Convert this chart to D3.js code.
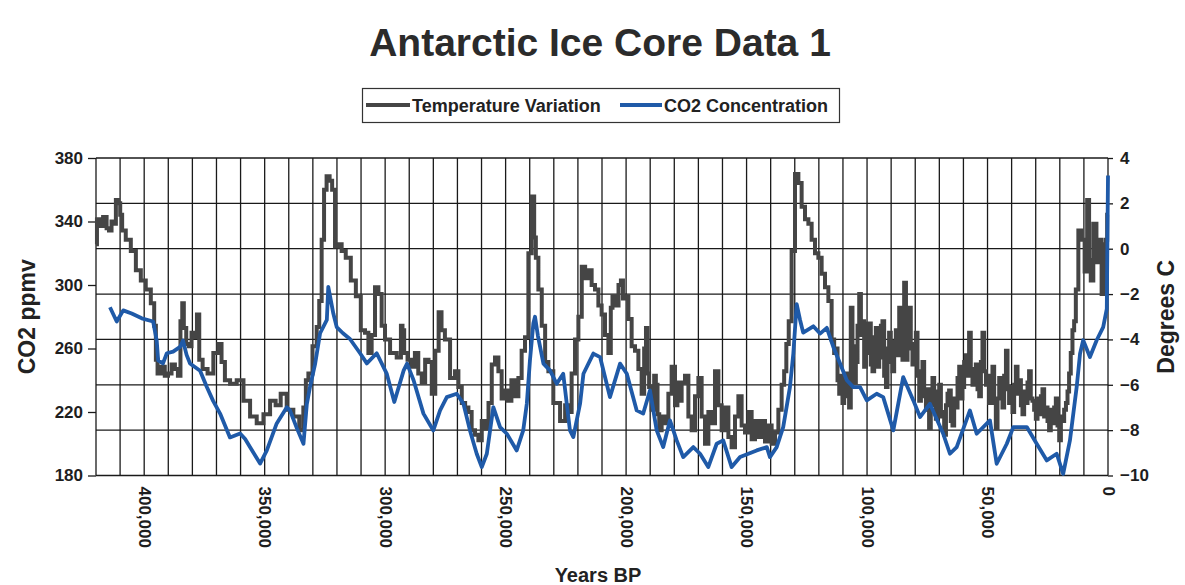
<!DOCTYPE html>
<html>
<head>
<meta charset="utf-8">
<script src="https://cdn.jsdelivr.net/npm/d3@7"></script>
<style>
  html, body { margin: 0; padding: 0; background: #ffffff; }
  svg { display: block; }
  .tick text { font-family: "Liberation Sans", Arial, sans-serif; font-weight: bold; font-size: 17px; fill: #1e1e1e; }
  .domain { display: none; }
</style>
</head>
<body>
<svg id="chart" width="1185" height="585"></svg>
<script>
// Vostok ice core record: age (kyr before present) and temperature anomaly (°C)
const tempYears = [
  420.0, 419.2, 417.9, 416.2, 415.0, 414.2, 412.9, 412.1, 411.4, 410.3, 409.6, 408.7, 406.6, 404.5, 402.4, 400.4,
  398.3, 396.2, 395.5, 394.8, 394.1, 392.0, 390.9, 389.3, 388.0, 386.5, 385.5, 384.4, 384.0, 383.1, 382.0, 381.0,
  379.7, 378.7, 377.5, 376.8, 374.7, 372.7, 369.9, 368.5, 367.3, 365.7, 363.0, 360.2, 357.4, 354.7, 351.9, 349.1,
  346.4, 344.5, 342.2, 339.5, 336.7, 334.6, 333.3, 332.5, 331.2, 329.1, 327.7, 327.0, 325.7, 325.0, 323.6, 322.5,
  321.5, 320.1, 318.7, 317.4, 315.3, 313.2, 311.1, 309.1, 307.6, 306.3, 304.9, 303.5, 302.1, 300.8, 299.3, 296.6,
  293.8, 293.1, 292.5, 291.7, 289.7, 288.3, 287.0, 285.5, 284.1, 282.7, 281.3, 280.0, 278.4, 277.2, 276.0, 274.4,
  271.7, 270.3, 268.9, 267.5, 266.1, 264.8, 263.4, 262.0, 260.6, 259.2, 257.8, 256.4, 255.1, 253.7, 252.3, 251.0,
  250.2, 248.2, 247.0, 245.4, 244.0, 242.7, 241.2, 239.9, 238.5, 237.8, 237.1, 235.7, 234.3, 232.9, 231.6, 228.8,
  226.0, 224.6, 223.3, 221.9, 220.5, 219.1, 217.7, 216.3, 215.0, 213.6, 212.2, 210.8, 209.5, 208.0, 206.7, 206.0,
  205.3, 203.8, 202.5, 201.8, 200.8, 199.7, 198.4, 197.0, 195.6, 194.2, 192.9, 192.1, 191.4, 190.8, 190.1, 188.7,
  188.0, 187.3, 186.6, 185.9, 184.6, 183.1, 181.8, 180.4, 179.0, 178.4, 177.6, 176.3, 174.8, 173.5, 172.1, 170.7,
  169.3, 168.0, 166.5, 165.2, 163.8, 162.4, 161.0, 159.7, 158.2, 156.9, 155.5, 154.1, 152.7, 151.4, 149.9, 148.6,
  147.2, 145.8, 144.4, 143.1, 141.6, 140.3, 138.9, 137.5, 136.1, 134.8, 134.0, 133.0, 132.0, 130.6, 129.2, 127.8,
  126.5, 125.0, 123.7, 122.3, 120.9, 119.5, 118.2, 116.7, 115.4,
  114.0, 113.3, 112.6, 111.9, 111.2, 110.5, 109.9, 109.1, 108.4, 107.8, 107.1, 106.4, 105.7, 105.0, 104.3, 103.6,
  102.9, 102.2, 101.6, 100.8, 100.1, 99.5, 98.8, 98.1, 97.4, 96.7, 96.0, 95.3, 94.6, 93.9, 93.3, 92.5,
  91.8, 91.2, 90.5, 89.8, 89.1, 88.4, 87.7, 87.0, 86.3, 85.6, 85.0, 84.2, 83.5, 82.9, 82.2, 81.5,
  80.8, 80.1, 79.4, 78.7, 78.0, 77.3, 76.7, 75.9, 75.2, 74.6, 73.9, 73.2, 72.5, 71.8, 71.1, 70.4,
  69.7, 69.0, 68.4, 67.6, 66.9, 66.3, 65.6, 64.9, 64.2, 63.5, 62.8, 62.1, 61.4, 60.7, 60.1, 59.3,
  58.6, 58.0, 57.3, 56.6, 55.9, 55.2, 54.5, 53.8, 53.1, 52.4, 51.8, 51.0, 50.3, 49.7, 49.0, 48.3,
  47.6, 46.9, 46.2, 45.5, 44.8, 44.1, 43.5, 42.7, 42.0, 41.4, 40.7, 40.0, 39.3, 38.6, 37.9, 37.2,
  36.5, 35.8, 35.2, 34.4, 33.7, 33.1, 32.4, 31.7, 31.0, 30.3, 29.6, 28.9, 28.2, 27.5, 26.9, 26.1,
  25.4, 24.8, 24.1, 23.4, 22.7, 22.0, 21.3, 20.6, 19.9, 19.2, 18.6, 17.8, 17.1, 16.5, 15.8, 15.1,
  14.4, 13.7, 13.0, 11.6, 10.3, 9.1, 8.2, 7.5, 6.8, 5.4, 4.2, 3.3, 2.0, 1.2, 0.5, 0.2
];
const tempValues = [
  0.2, 1.3, 1.0, 1.4, 0.9, 0.8, 1.2, 1.1, 2.15, 2.0, 1.5, 0.8, 0.4, -0.1, -0.95, -1.4,
  -1.8, -2.4, -3.4, -4.9, -5.5, -5.2, -5.6, -5.5, -5.1, -5.3, -5.6, -3.2, -2.4, -3.5, -4.2, -4.3,
  -3.7, -3.9, -2.9, -4.9, -5.3, -5.5, -4.6, -4.2, -5.0, -5.8, -5.95, -5.8, -6.7, -7.4, -7.7, -7.3,
  -6.7, -6.9, -6.4, -7.1, -7.4, -8.0, -7.0, -5.8, -5.5, -4.3, -3.45, -2.3, 0.4, 2.6, 3.2, 3.0,
  2.6, 0.1, 0.2, -0.1, -0.4, -1.4, -2.1, -3.6, -3.7, -4.6, -3.8, -1.7, -2.0, -3.4, -4.0, -4.6,
  -4.8, -3.4, -3.6, -4.6, -4.9, -5.2, -4.6, -5.5, -5.9, -4.9, -5.0, -6.4, -4.5, -2.8, -3.6, -4.0,
  -5.7, -5.4, -6.1, -6.8, -7.0, -7.2, -8.0, -8.2, -8.45, -7.6, -7.9, -6.8, -5.1, -4.8, -5.4, -6.6,
  -6.25, -6.7, -5.8, -6.5, -5.7, -4.5, -3.9, -0.2, 2.3, 0.5, -0.4, -1.8, -3.4, -5.0, -5.4, -6.8,
  -7.6, -6.9, -7.2, -5.5, -4.0, -3.0, -0.8, -1.3, -0.95, -1.6, -1.8, -2.5, -2.9, -3.8, -4.6, -2.6,
  -2.1, -2.5, -1.6, -1.4, -2.2, -2.1, -3.1, -4.3, -4.5, -5.3, -6.4, -4.4, -3.5, -5.5, -6.1, -7.1,
  -5.6, -6.0, -7.3, -8.0, -7.4, -7.7, -6.4, -5.2, -6.9, -5.9, -6.7, -5.9, -5.6, -7.4, -8.0, -6.5,
  -5.7, -7.4, -8.6, -7.2, -7.7, -5.4, -6.9, -8.0, -7.0, -8.3, -8.75, -7.4, -6.5, -7.8, -8.1, -7.2,
  -8.4, -7.6, -8.3, -7.6, -8.5, -7.8, -8.6, -8.1, -7.1, -6.0, -5.4, -4.2, -3.2, -0.1, 3.3, 2.9,
  1.85, 1.3, 1.1, 0.4, -0.2, -0.4, -1.1, -1.7, -2.3,
  -4.0, -4.6, -4.4, -5.8, -6.4, -5.6, -6.8, -5.8, -5.5, -6.5, -7.0, -2.6, -4.3, -5.9, -5.0, -3.4,
  -2.0, -3.8, -3.2, -5.2, -4.6, -3.3, -3.3, -5.1, -5.4, -3.9, -3.5, -5.2, -4.8, -3.4, -3.2, -5.6,
  -6.1, -4.4, -3.7, -5.0, -5.4, -4.1, -3.6, -4.7, -2.6, -3.9, -4.9, -1.5, -4.9, -3.6, -2.6, -4.4,
  -5.1, -4.2, -3.7, -5.6, -6.7, -5.4, -5.0, -6.5, -7.1, -6.2, -7.9, -6.6, -5.7, -6.9, -7.5, -6.3,
  -6.0, -7.4, -7.2, -8.2, -6.9, -6.4, -6.25, -7.6, -7.8, -6.6, -7.0, -5.7, -5.2, -6.6, -6.1, -5.0,
  -4.7, -5.6, -3.7, -5.4, -6.0, -5.3, -5.1, -6.2, -6.5, -5.0, -3.7, -5.4, -6.0, -5.6, -6.8, -6.0,
  -5.2, -6.8, -7.9, -6.6, -5.7, -6.4, -7.0, -5.6, -4.5, -6.2, -6.8, -6.1, -7.2, -6.0, -5.2, -6.4,
  -5.8, -6.9, -7.3, -6.3, -6.8, -5.9, -5.4, -6.6, -6.7, -7.1, -7.5, -6.6, -7.3, -6.5, -6.2, -7.4,
  -7.0, -7.6, -8.0, -7.1, -7.7, -7.0, -6.6, -7.8, -8.45, -7.4, -7.6, -7.1, -6.8, -6.3, -5.5, -4.6,
  -3.6, -3.2, -1.8, 0.8, 0.4, -1.0, 2.15, -0.5, -1.4, 1.1, -0.6, 0.4, -2.0, 0.2, 0.4, 1.5
];

// Atmospheric CO2 (ppmv) from trapped air bubbles
const co2Years = [
  414.2, 411.4, 408.7, 405.2, 401.0, 396.3, 394.8, 394.2, 392.2, 390.6, 388.0, 385.1, 383.9, 382.4, 381.0, 376.8,
  374.0, 371.4, 368.5, 364.4, 360.2, 358.1, 356.1, 351.9, 349.1, 345.0, 340.8, 339.5, 336.7, 333.9, 332.5, 331.2,
  329.1, 327.0, 324.2, 323.6, 321.5, 320.1, 317.5, 314.6, 310.4, 307.6, 303.5, 299.3, 296.2, 292.3, 290.9, 288.2,
  284.1, 280.0, 277.2, 274.4, 270.3, 267.5, 264.8, 262.0, 259.9, 257.8, 255.1, 252.3, 249.5, 245.4, 242.7, 241.2,
  239.9, 238.5, 237.8, 236.6, 234.3, 231.6, 228.8, 226.1, 223.3, 221.9, 219.1, 217.7, 213.6, 210.8, 206.7, 202.5,
  199.7, 195.6, 192.9, 190.1, 187.3, 184.6, 181.8, 179.0, 176.3, 172.1, 169.3, 165.9, 162.4, 159.7, 156.2, 152.7,
  145.8, 141.6, 140.3, 137.5, 134.8, 132.0, 130.6, 129.2, 127.8, 126.5, 122.3, 119.5, 116.7, 114.0, 111.2, 108.4,
  105.7, 102.9, 100.1, 96.0, 93.3, 89.1, 85.0, 80.8, 78.0, 73.9, 68.4, 65.6, 62.8, 57.3, 54.5, 49.0,
  46.2, 42.0, 39.3, 33.7, 29.6, 25.4, 21.3, 18.6, 15.8, 13.0, 11.6, 10.3, 7.5, 4.7, 2.0, 0.5, 0.0
];
const co2Values = [
  286, 277, 284, 282, 279, 277, 265, 252.5, 250.6, 257, 258, 261, 265, 256, 250.6, 246,
  235.7, 227, 219, 204, 206.5, 203, 198, 187.5, 195.8, 212.8, 223, 221, 210, 200, 225, 235.7,
  250, 269.6, 278, 298.8, 282, 273.5, 269.6, 266, 257, 250.6, 257, 244, 226.3, 246.2, 250.5, 240,
  219, 208.4, 221, 229.4, 231.5, 225.2, 208.4, 193.7, 185.3, 193.7, 223.1, 210.5, 206.3, 195.8, 208.4, 225.2,
  252.6, 275.7, 280, 268, 250.5, 246.2, 237.8, 244.1, 208.4, 204.2, 225.2, 244.1, 256.8, 254.6, 229.4, 250.5,
  244.1, 221, 219, 233.6, 208.4, 197.9, 214.7, 202.1, 191.6, 197.9, 193.7, 185.3, 200, 202.1, 185.3, 191.6,
  195.8, 197.9, 191.6, 197.9, 210.5, 235.7, 256.8, 288, 278, 270, 274, 269.4, 273, 261, 250.5, 240,
  235.7, 235.7, 227.3, 231.5, 229.4, 208.4, 242, 227.3, 216.8, 225.2, 206.3, 193.7, 197.9, 221, 206.3, 214.7,
  187.4, 200, 210.5, 210.5, 200, 189.5, 193.7, 181, 202.1, 235.7, 256.8, 265.2, 254.6, 265.2, 273.5, 285, 369
];

// Axis ticks
const co2Ticks = [180, 220, 260, 300, 340, 380];
const tempTicks = [-10, -8, -6, -4, -2, 0, 2, 4];
const yearTicks = [400000, 350000, 300000, 250000, 200000, 150000, 100000, 50000, 0];
const yearGrid = d3.range(0, 420001, 10000);

const seriesNames = ["Temperature Variation", "CO2 Concentration"];
const tempColor = "#454545";
const co2Color = "#1f5aa8";

const svg = d3.select("#chart");
const plot = { left: 96, right: 1108, top: 158, bottom: 475.5 };

const x = d3.scaleLinear().domain([420000, 0]).range([plot.left, plot.right]);
const yCO2 = d3.scaleLinear().domain([180, 380]).range([plot.bottom, plot.top]);
const yTemp = d3.scaleLinear().domain([-10, 4]).range([plot.bottom, plot.top]);

const font = '"Liberation Sans", Arial, sans-serif';

// Title
svg.append("text")
  .attr("x", 600).attr("y", 56)
  .attr("text-anchor", "middle")
  .attr("font-family", font).attr("font-weight", "bold").attr("font-size", 39)
  .attr("fill", "#2b2b2b")
  .text("Antarctic Ice Core Data 1");

// Legend
const legend = svg.append("g");
legend.append("rect")
  .attr("x", 362.5).attr("y", 88.5).attr("width", 477).attr("height", 34)
  .attr("fill", "#fff").attr("stroke", "#333").attr("stroke-width", 1.2);
const legendItems = [
  { name: seriesNames[0], color: tempColor, x0: 366, x1: 410 },
  { name: seriesNames[1], color: co2Color, x0: 620, x1: 662 }
];
legendItems.forEach(d => {
  legend.append("line")
    .attr("x1", d.x0).attr("x2", d.x1).attr("y1", 105).attr("y2", 105)
    .attr("stroke", d.color).attr("stroke-width", 4);
  legend.append("text")
    .attr("x", d.x1 + 2).attr("y", 111.5)
    .attr("font-family", font).attr("font-weight", "bold").attr("font-size", 18)
    .attr("fill", "#222")
    .text(d.name);
});

// Grid lines
const grid = svg.append("g").attr("stroke", "#1a1a1a").attr("stroke-width", 1.3);
grid.selectAll(".vgrid").data(yearGrid).join("line")
  .attr("x1", d => x(d)).attr("x2", d => x(d))
  .attr("y1", plot.top).attr("y2", plot.bottom);
grid.selectAll(".hgrid").data(tempTicks).join("line")
  .attr("x1", plot.left).attr("x2", plot.right)
  .attr("y1", d => yTemp(d)).attr("y2", d => yTemp(d));

// Axes
svg.append("g")
  .attr("transform", `translate(${plot.left},0)`)
  .call(d3.axisLeft(yCO2).tickValues(co2Ticks).tickSize(8).tickPadding(5))
  .call(g => g.selectAll(".tick line").attr("stroke", "#1a1a1a").attr("stroke-width", 1.3));

svg.append("g")
  .attr("transform", `translate(${plot.right},0)`)
  .call(d3.axisRight(yTemp).tickValues(tempTicks).tickSize(5).tickPadding(7))
  .call(g => g.selectAll(".tick line").attr("stroke", "#1a1a1a").attr("stroke-width", 1.3));

const xAxis = svg.append("g")
  .attr("transform", `translate(0,${plot.bottom})`)
  .call(d3.axisBottom(x).tickValues(yearTicks).tickSize(0).tickFormat(d3.format(",")));
xAxis.selectAll(".tick text")
  .attr("text-anchor", "start")
  .attr("dy", "0.35em")
  .attr("transform", "translate(0,11) rotate(90)")
  .attr("x", 0).attr("y", 0);

// Axis titles
svg.append("text")
  .attr("transform", `translate(27,${(plot.top + plot.bottom) / 2}) rotate(-90)`)
  .attr("text-anchor", "middle").attr("dominant-baseline", "central")
  .attr("font-family", font).attr("font-weight", "bold").attr("font-size", 23).attr("fill", "#222")
  .text("CO2 ppmv");
svg.append("text")
  .attr("transform", `translate(1166,${(plot.top + plot.bottom) / 2}) rotate(-90)`)
  .attr("text-anchor", "middle").attr("dominant-baseline", "central")
  .attr("font-family", font).attr("font-weight", "bold").attr("font-size", 23).attr("fill", "#222")
  .text("Degrees C");
svg.append("text")
  .attr("x", 598).attr("y", 582)
  .attr("text-anchor", "middle")
  .attr("font-family", font).attr("font-weight", "bold").attr("font-size", 20).attr("fill", "#222")
  .text("Years BP");

// Series
const tempData = tempYears.map((k, i) => ({ year: k * 1000, v: tempValues[i] }));
const co2Data = co2Years.map((k, i) => ({ year: k * 1000, v: co2Values[i] }));

svg.append("path")
  .datum(tempData)
  .attr("fill", "none")
  .attr("stroke", tempColor)
  .attr("stroke-width", 4)
  .attr("stroke-linejoin", "miter")
  .attr("d", d3.line().curve(d3.curveStep).x(d => x(d.year)).y(d => yTemp(d.v)));

svg.append("path")
  .datum(co2Data)
  .attr("fill", "none")
  .attr("stroke", co2Color)
  .attr("stroke-width", 3.8)
  .attr("stroke-linejoin", "round")
  .attr("d", d3.line().x(d => x(d.year)).y(d => yCO2(d.v)));
</script>
</body>
</html>
